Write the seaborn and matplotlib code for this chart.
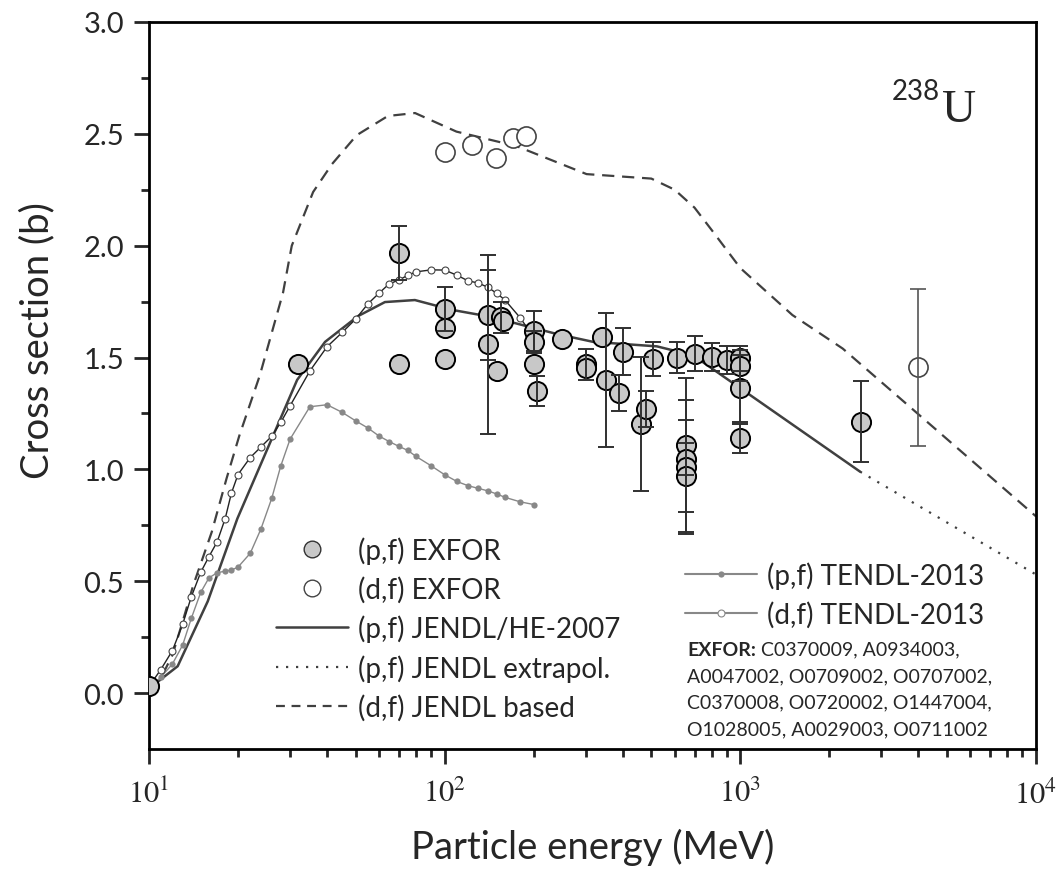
import numpy as np
import pandas as pd
import matplotlib
matplotlib.use("Agg")
import matplotlib.pyplot as plt
import matplotlib.ticker as mtick
from matplotlib.lines import Line2D
import seaborn as sns

sns.set_style("ticks")
plt.rcParams["font.family"] = ["Lato", "DejaVu Sans"]
plt.rcParams["mathtext.fontset"] = "stix"

# ---- data ---------------------------------------------------------------------
# (p,f) JENDL/HE-2007
jendl_E = [10, 12.5, 15.8, 19.9, 31.7, 39.4, 50.9, 62.8, 79.3, 106, 139, 166, 240, 318, 522, 692, 2540]
jendl_y = [0.02, 0.12, 0.41, 0.78, 1.40, 1.57, 1.685, 1.748, 1.757, 1.713, 1.685, 1.66, 1.605, 1.57, 1.55, 1.51, 0.99]
# (p,f) JENDL extrapolation
extra_E = [2540, 10000]
extra_y = [0.99, 0.53]
# (d,f) JENDL based
dbase_E = [10, 11, 12, 13, 14.1, 16.3, 18.3, 20.2, 23.7, 28.4, 30.4, 35.9, 41.6, 50.4, 64.3, 79.4,
           109.6, 175, 302, 500, 600, 700, 800, 1000, 1500, 2220, 10000]
dbase_y = [0.02, 0.07, 0.17, 0.32, 0.48, 0.72, 0.96, 1.15, 1.42, 1.79, 2.0, 2.24, 2.365, 2.494, 2.58, 2.593,
           2.51, 2.445, 2.32, 2.30, 2.25, 2.17, 2.07, 1.90, 1.69, 1.54, 0.79]
# (p,f) TENDL-2013
tpf_E = [10, 10.95, 12, 13, 13.9, 14.96, 15.95, 17, 18.1, 19, 20, 22, 23.9, 26, 27.9, 30, 35, 40, 45, 50,
         55, 60, 65, 70, 75, 80, 90, 100, 110, 120, 130, 140, 150, 160, 180, 200]
tpf_y = [0.02, 0.07, 0.13, 0.215, 0.334, 0.45, 0.515, 0.538, 0.545, 0.55, 0.563, 0.625, 0.733, 0.87, 1.015,
         1.135, 1.28, 1.289, 1.255, 1.217, 1.185, 1.149, 1.124, 1.103, 1.085, 1.058, 1.016, 0.976, 0.946,
         0.927, 0.915, 0.904, 0.89, 0.875, 0.855, 0.843]
# (d,f) TENDL-2013
tdf_E = [10, 10.95, 12, 13, 13.9, 14.96, 15.95, 17, 18.1, 19, 20, 22, 23.9, 26, 27.9, 30, 35, 40, 45, 50,
         55, 60, 65, 70, 75, 80, 90, 100, 110, 120, 130, 140, 150, 160, 180, 200]
tdf_y = [0.03, 0.104, 0.19, 0.308, 0.43, 0.54, 0.61, 0.676, 0.78, 0.894, 0.977, 1.053, 1.10, 1.148, 1.21,
         1.284, 1.44, 1.548, 1.612, 1.672, 1.74, 1.788, 1.83, 1.846, 1.868, 1.883, 1.892, 1.891, 1.868,
         1.843, 1.833, 1.814, 1.787, 1.757, 1.678, 1.591]
# (p,f) EXFOR
pf_E = [10, 32, 70, 70, 100, 100, 100, 140, 140, 150, 155, 158, 200, 200, 200, 206, 250, 300, 300, 340,
        350, 390, 400, 460, 480, 505, 612, 656, 656, 656, 656, 702, 800, 900, 1000, 1000, 1000, 1000, 2550]
pf_y = [0.03, 1.47, 1.966, 1.47, 1.717, 1.63, 1.493, 1.69, 1.56, 1.44, 1.68, 1.665, 1.62, 1.57, 1.47,
        1.351, 1.582, 1.47, 1.455, 1.59, 1.40, 1.341, 1.526, 1.203, 1.27, 1.493, 1.50, 1.109, 1.046, 1.009,
        0.971, 1.518, 1.503, 1.49, 1.496, 1.463, 1.362, 1.139, 1.213]
pf_err = [0, 0, 0.12, 0, 0.10, 0, 0, 0.20, 0.40, 0, 0.07, 0, 0.09, 0.05, 0, 0.067, 0, 0.07, 0, 0,
          0.30, 0.08, 0.105, 0.30, 0.08, 0.077, 0.07, 0.30, 0.07, 0.30, 0.25, 0.077, 0.062, 0.062, 0.054,
          0.07, 0.15, 0.066, 0.18]
# (d,f) EXFOR
df_E = [100, 124, 149, 170, 189, 4000]
df_y = [2.42, 2.451, 2.39, 2.48, 2.49, 1.456]
df_err = [0, 0, 0, 0, 0, 0.35]

exfor_refs = ["C0370009, A0934003,", "A0047002, O0709002, O0707002,",
              "C0370008, O0720002, O1447004,", "O1028005, A0029003, O0711002"]

DARK = "#404040"
GREY = "#888888"
FILL = "#c8c8c8"

fig = plt.figure(figsize=(10.61, 8.78), dpi=100)
ax = fig.add_axes([149 / 1061, 1 - 750 / 878, 887 / 1061, 727 / 878])

pf = pd.DataFrame({"E": pf_E, "y": pf_y, "err": pf_err})
dfx = pd.DataFrame({"E": df_E, "y": df_y, "err": df_err})

sns.lineplot(x=dbase_E, y=dbase_y, ax=ax, color=DARK, lw=1.6,
             linestyle=(0, (5.5, 3.5)), estimator=None, sort=False, zorder=2)
sns.lineplot(x=jendl_E, y=jendl_y, ax=ax, color=DARK, lw=1.8, estimator=None, sort=False, zorder=2)
sns.lineplot(x=extra_E, y=extra_y, ax=ax, color=DARK, lw=1.6, linestyle=(0, (1.0, 3.5)),
             estimator=None, sort=False, zorder=2)
sns.lineplot(x=tpf_E, y=tpf_y, ax=ax, color=GREY, lw=1.0, marker="o", markersize=4.5,
             markeredgewidth=0, markerfacecolor=GREY, estimator=None, sort=False, zorder=3)
sns.lineplot(x=tdf_E, y=tdf_y, ax=ax, color="#222222", lw=1.0, marker="o", markersize=5,
             markerfacecolor="white", markeredgecolor="#444444", markeredgewidth=0.8,
             estimator=None, sort=False, zorder=3)

sns.scatterplot(data=pf, x="E", y="y", ax=ax, s=190, color=FILL, edgecolor="black",
                linewidth=1.4, zorder=4, legend=False)
sns.scatterplot(data=dfx, x="E", y="y", ax=ax, s=190, color="white", edgecolor="#444444",
                linewidth=1.2, zorder=4, legend=False)

pe = pf[pf["err"] > 0]
ax.errorbar(pe["E"], pe["y"], yerr=pe["err"], fmt="none", ecolor="#303030", elinewidth=1.4,
            capsize=5.5, capthick=1.4, zorder=5)
de = dfx[dfx["err"] > 0]
ax.errorbar(de["E"], de["y"], yerr=de["err"], fmt="none", ecolor="#555555", elinewidth=1.2,
            capsize=5.5, capthick=1.2, zorder=5)

ax.set_xscale("log")
ax.set_xlim(10, 1e4)
ax.set_ylim(-0.25, 3.0)
ax.set_yticks(np.arange(0, 3.01, 0.5))
ax.yaxis.set_minor_locator(mtick.FixedLocator(np.arange(0.25, 3.0, 0.5)))
ax.yaxis.set_major_formatter(mtick.FormatStrFormatter("%.1f"))
ax.xaxis.set_major_locator(mtick.LogLocator(base=10, numticks=10))
ax.xaxis.set_minor_locator(mtick.LogLocator(base=10, subs=np.arange(2, 10), numticks=20))
ax.xaxis.set_major_formatter(mtick.FuncFormatter(lambda v, p: r"$10^{%d}$" % round(np.log10(v))))

for sp in ax.spines.values():
    sp.set_linewidth(2.0)
    sp.set_color("black")
ax.tick_params(which="major", direction="out", length=11, width=2.0, labelsize=21, pad=7)
ax.tick_params(which="minor", direction="out", length=6, width=2.0)
ax.tick_params(axis="x", which="major", labelsize=22, pad=9)
ax.tick_params(top=False, right=False, which="both")

ax.set_xlabel("Particle energy (MeV)", fontsize=27.5)
ax.set_ylabel("Cross section (b)", fontsize=27.5)
ax.xaxis.set_label_coords(0.5, -0.108)
ax.yaxis.set_label_coords(-0.106, 0.563)

# isotope label
fig.text(940 / 1061, 1 - 100 / 878, "238", fontsize=20, ha="right", va="baseline")
fig.text(942 / 1061, 1 - 122 / 878, "U", fontsize=34, family="Liberation Serif", ha="left", va="baseline")

# legends
h1 = [
    Line2D([], [], ls="none", marker="o", markersize=12, markerfacecolor=FILL, markeredgecolor="#333333"),
    Line2D([], [], ls="none", marker="o", markersize=12, markerfacecolor="white", markeredgecolor="#444444"),
    Line2D([], [], color=DARK, lw=1.8),
    Line2D([], [], color=DARK, lw=1.6, linestyle=(0, (1.0, 3.5))),
    Line2D([], [], color=DARK, lw=1.6, linestyle=(0, (4, 3))),
]
l1 = ["(p,f) EXFOR", "(d,f) EXFOR", "(p,f) JENDL/HE-2007", "(p,f) JENDL extrapol.", "(d,f) JENDL based"]
leg1 = ax.legend(h1, l1, loc="upper left", bbox_to_anchor=(276 / 1061, 1 - 537 / 878),
                 bbox_transform=fig.transFigure, frameon=False, fontsize=20, handlelength=2.6,
                 handletextpad=0.36, labelspacing=0.43, borderpad=0, borderaxespad=0)
ax.add_artist(leg1)

h2 = [
    Line2D([], [], color=GREY, lw=1.5, marker="o", markersize=4.5, markerfacecolor=GREY, markeredgewidth=0),
    Line2D([], [], color=GREY, lw=1.5, marker="o", markersize=5, markerfacecolor="white",
           markeredgecolor=GREY, markeredgewidth=0.8),
]
l2 = ["(p,f) TENDL-2013", "(d,f) TENDL-2013"]
ax.legend(h2, l2, loc="upper left", bbox_to_anchor=(685 / 1061, 1 - 562 / 878),
          bbox_transform=fig.transFigure, frameon=False, fontsize=20, handlelength=2.6,
          handletextpad=0.36, labelspacing=0.43, borderpad=0, borderaxespad=0)

ys = [650, 677, 703, 730]
t0 = fig.text(687 / 1061, 1 - ys[0] / 878, "EXFOR:", fontsize=14, fontweight="bold", va="center")
ax.annotate(" " + exfor_refs[0], xy=(1, 0.5), xycoords=t0, va="center", fontsize=14)
for yy, txt in zip(ys[1:], exfor_refs[1:]):
    fig.text(687 / 1061, 1 - yy / 878, txt, fontsize=14, va="center")

fig.savefig("out.png", dpi=100)
